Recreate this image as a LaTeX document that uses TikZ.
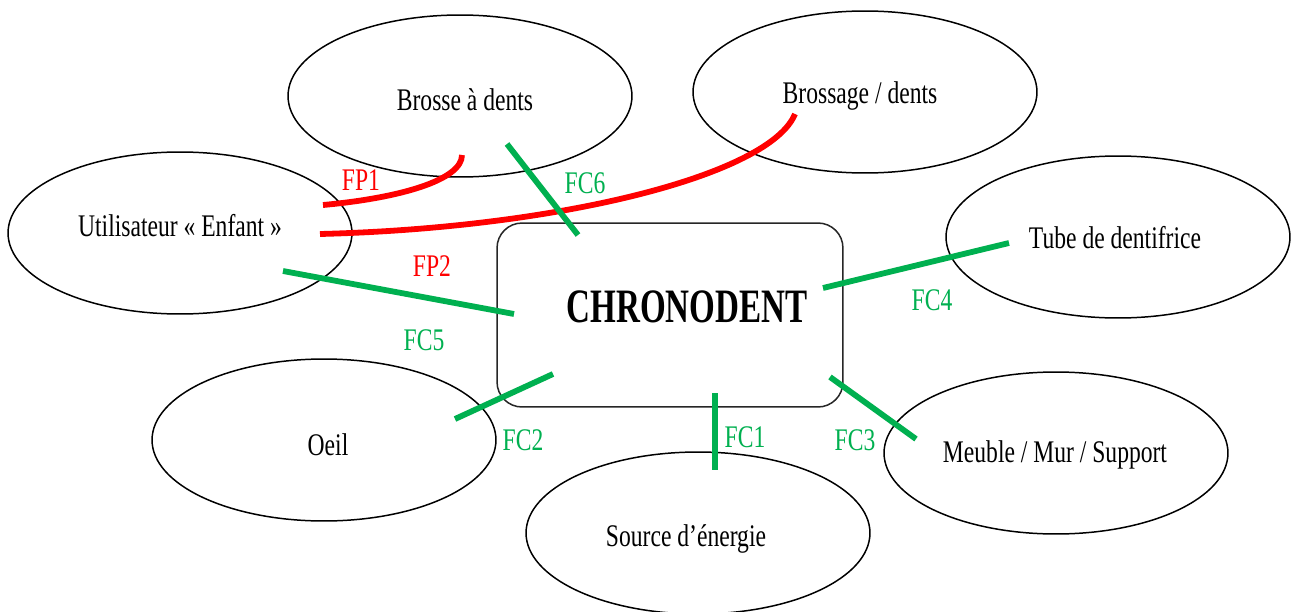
\documentclass[tikz,border=0pt]{standalone}
\usepackage{fontspec}
\setmainfont{Liberation Serif}[FakeStretch=0.75]
\newfontfamily\chronofont{Liberation Serif}[FakeStretch=0.69]
\usetikzlibrary{shapes.geometric}
\definecolor{fgreen}{RGB}{0,176,80}
\definecolor{fred}{RGB}{255,0,0}
\tikzset{
  bubble/.style={ellipse, draw=black, line width=0.85pt, minimum width=6.88cm, minimum height=3.24cm, inner sep=0pt},
  txt/.style={font=\fontsize{17.9}{20}\selectfont, inner sep=0pt},
  fplabel/.style={txt, text=fred},
  fclabel/.style={txt, text=fgreen},
  fpline/.style={draw=fred, line width=3.3pt},
  fcline/.style={draw=fgreen, line width=3.3pt},
}
\begin{document}
\begin{tikzpicture}[x=0.02cm,y=-0.02cm]
\useasboundingbox (0,0) rectangle (1292,612);
\fill[white] (0,0) rectangle (1292,612);
% ellipses
\node[bubble] (brosse) at (460,96) {};
\node[bubble] (brossage) at (865,92) {};
\node[bubble] (user) at (180,233) {};
\node[bubble] (tube) at (1118,237) {};
\node[bubble] (meuble) at (1056,453) {};
\node[bubble] (oeil) at (324,440) {};
\node[bubble] (source) at (698,533) {};
% central box
\node[draw=black!85, line width=0.85pt, rounded corners=0.5cm, minimum width=6.92cm, minimum height=3.68cm, inner sep=0pt] (chrono) at (670,315) {};
\node[font=\chronofont\bfseries\fontsize{27.3}{30}\selectfont, inner sep=0pt] (chronotxt) at (687,307) {CHRONODENT};
% texts
\node[txt] (tbrosse) at (465,100) {Brosse à dents};
\node[txt] (tbrossage) at (860,96) {Brossage / dents};
\node[txt] (tuser) at (180,226) {Utilisateur « Enfant »};
\node[txt] (ttube) at (1115,238) {Tube de dentifrice};
\node[txt] (tmeuble) at (1055,455) {Meuble / Mur / Support};
\node[txt] (toeil) at (328,445) {Oeil};
\node[txt] (tsource) at (686,539) {Source d’énergie};
% labels
\node[fplabel] (lfp1) at (361,180) {FP1};
\node[fplabel] (lfp2) at (432,266) {FP2};
\node[fclabel] (lfc6) at (585,183) {FC6};
\node[fclabel] (lfc5) at (424,340) {FC5};
\node[fclabel] (lfc2) at (523,440) {FC2};
\node[fclabel] (lfc1) at (745,437) {FC1};
\node[fclabel] (lfc3) at (855,440) {FC3};
\node[fclabel] (lfc4) at (932,300) {FC4};
% connector end points
\coordinate (fp1a) at (323,205);
\coordinate (fp1b) at (462,155);
\coordinate (fp2a) at (320,234);
\coordinate (fp2b) at (795,114);
\coordinate (fc6a) at (507,144);
\coordinate (fc6b) at (578,235);
\coordinate (fc5a) at (283,271);
\coordinate (fc5b) at (514,314);
\coordinate (fc2a) at (455,419);
\coordinate (fc2b) at (553,374);
\coordinate (fc1a) at (715,393);
\coordinate (fc1b) at (715,470);
\coordinate (fc3a) at (830,377);
\coordinate (fc3b) at (916,439);
\coordinate (fc4a) at (823,288);
\coordinate (fc4b) at (1009,243);
% red connectors
\draw[fpline] (fp1a) .. controls (400,198) and (462,180) .. (fp1b);
\draw[fpline] (fp2a) .. controls (560,228) and (770,175) .. (fp2b);
% green connectors
\draw[fcline] (fc6a) -- (fc6b);
\draw[fcline] (fc5a) -- (fc5b);
\draw[fcline] (fc2a) -- (fc2b);
\draw[fcline] (fc1a) -- (fc1b);
\draw[fcline] (fc3a) -- (fc3b);
\draw[fcline] (fc4a) -- (fc4b);
\end{tikzpicture}
\end{document}
